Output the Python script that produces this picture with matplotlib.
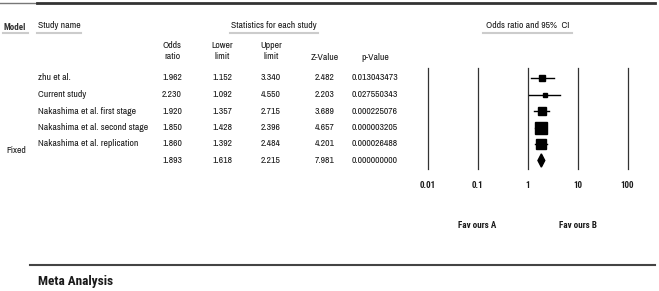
import numpy as np
import matplotlib
matplotlib.use("Agg")
import matplotlib.pyplot as plt
from matplotlib.patches import Polygon

plt.rcParams['font.family'] = ['Archivo Narrow', 'PT Sans Narrow', 'Roboto Condensed', 'Liberation Sans']
bold_family = ['Roboto Condensed', 'PT Sans Narrow', 'Liberation Sans']

# data
studies = ['zhu et al.', 'Current study', 'Nakashima et al. first stage',
           'Nakashima et al. second stage', 'Nakashima et al. replication']
odds = [1.962, 2.230, 1.920, 1.850, 1.860]
lower = [1.152, 1.092, 1.357, 1.428, 1.392]
upper = [3.340, 4.550, 2.715, 2.396, 2.484]
zval = [2.482, 2.203, 3.689, 4.657, 4.201]
pval = ['0.013043473', '0.027550343', '0.000225076', '0.000003205', '0.000026488']
weights = [9, 4, 17, 40, 30]  # relative weights (box size)

fixed_odds, fixed_lower, fixed_upper = 1.893, 1.618, 2.215
fixed_z, fixed_p = 7.981, '0.000000000'

ticks = [0.01, 0.1, 1, 10, 100]
tick_labels = ['0.01', '0.1', '1', '10', '100']

W, H = 659, 291
fig = plt.figure(figsize=(W / 100, H / 100), dpi=100)
bg = fig.add_axes([0, 0, 1, 1])
bg.set_xlim(0, W)
bg.set_ylim(H, 0)
bg.axis('off')

fs = 7
tc = '#1a1a1a'
row0, dy = 78, 16.5
col_x = {'or': 172, 'lo': 222, 'up': 271, 'z': 325, 'p': 375}

# top rule
bg.plot([0, 37], [2.5, 2.5], color='#777777', lw=1)
bg.plot([37, 655], [2.5, 2.5], color='#333333', lw=2)

# group headers with underlines
bg.text(4, 27, 'Model', fontsize=fs - 0.5, fontweight='bold', family=bold_family, color='#333333', va='center')
bg.plot([3, 28], [32.5, 32.5], color='#cccccc', lw=1.5)
bg.text(38, 26, 'Study name', fontsize=fs, va='center', color=tc)
bg.plot([37, 81], [32.5, 32.5], color='#cccccc', lw=1.5)
bg.text(274, 26, 'Statistics for each study', fontsize=fs, ha='center', va='center', color=tc)
bg.plot([230, 318], [32.5, 32.5], color='#cccccc', lw=1.5)
bg.text(528, 25.5, 'Odds ratio and 95%  CI', fontsize=fs, ha='center', va='center', color=tc)
bg.plot([483, 572], [32.5, 32.5], color='#cccccc', lw=1.5)

# column headers
for key, lab in [('or', 'Odds\nratio'), ('lo', 'Lower\nlimit'), ('up', 'Upper\nlimit')]:
    bg.text(col_x[key], 51, lab, fontsize=fs, ha='center', va='center', linespacing=1.3, color=tc)
bg.text(col_x['z'], 57, 'Z-Value', fontsize=fs, ha='center', va='center', color=tc)
bg.text(col_x['p'], 57, 'p-Value', fontsize=fs, ha='center', va='center', color=tc)

# study rows
for i, name in enumerate(studies):
    y = row0 + i * dy
    bg.text(38, y, name, fontsize=fs, va='center', color=tc)
    bg.text(col_x['or'], y, f'{odds[i]:.3f}', fontsize=fs, ha='center', va='center', color=tc)
    bg.text(col_x['lo'], y, f'{lower[i]:.3f}', fontsize=fs, ha='center', va='center', color=tc)
    bg.text(col_x['up'], y, f'{upper[i]:.3f}', fontsize=fs, ha='center', va='center', color=tc)
    bg.text(col_x['z'], y, f'{zval[i]:.3f}', fontsize=fs, ha='center', va='center', color=tc)
    bg.text(col_x['p'], y, pval[i], fontsize=fs, ha='center', va='center', color=tc)

yf = row0 + len(studies) * dy
bg.text(6, yf - 10, 'Fixed', fontsize=fs, va='center', color=tc)
bg.text(col_x['or'], yf, f'{fixed_odds:.3f}', fontsize=fs, ha='center', va='center', color=tc)
bg.text(col_x['lo'], yf, f'{fixed_lower:.3f}', fontsize=fs, ha='center', va='center', color=tc)
bg.text(col_x['up'], yf, f'{fixed_upper:.3f}', fontsize=fs, ha='center', va='center', color=tc)
bg.text(col_x['z'], yf, f'{fixed_z:.3f}', fontsize=fs, ha='center', va='center', color=tc)
bg.text(col_x['p'], yf, fixed_p, fontsize=fs, ha='center', va='center', color=tc)

# forest plot axes (log scale)
x0, x1 = 427.5, 627.5
ytop, ybot = 68, 169
ax = fig.add_axes([x0 / W, 1 - ybot / H, (x1 - x0) / W, (ybot - ytop) / H])
ax.set_xscale('log')
ax.set_xlim(0.01, 100)
n = len(studies) + 1
ax.set_ylim((ybot - row0) / dy, (ytop - row0) / dy)
ax.axis('off')
for t in ticks:
    ax.axvline(t, color='#333333', lw=0.9, clip_on=False)

for i in range(len(studies)):
    ax.plot([lower[i], upper[i]], [i, i], color='black', lw=1)
    side = 1.85 * np.sqrt(weights[i]) * 0.72  # px -> pt
    ax.plot(odds[i], i, marker='s', color='black', markersize=side, linestyle='none')

dh = 0.4
ax.add_patch(Polygon([(fixed_lower, n - 1), (fixed_odds, n - 1 - dh),
                      (fixed_upper, n - 1), (fixed_odds, n - 1 + dh)],
                     closed=True, color='black'))

# tick labels and favours labels
for t, lab in zip(ticks, tick_labels):
    xp = x0 + (np.log10(t) + 2) * 50
    bg.text(xp, 186, lab, fontsize=fs - 0.5, fontweight='bold', family=bold_family,
            ha='center', va='center', color=tc)
bg.text(x0 + 50, 225, 'Fav ours A', fontsize=fs - 0.5, fontweight='bold', family=bold_family,
        ha='center', va='center', color=tc)
bg.text(x0 + 150, 225, 'Fav ours B', fontsize=fs - 0.5, fontweight='bold', family=bold_family,
        ha='center', va='center', color=tc)

# bottom rule and title
bg.plot([30, 655], [265, 265], color='#444444', lw=1.5)
bg.text(38, 282, 'Meta Analysis', fontsize=9.5, fontweight='bold', family=bold_family,
        va='center', color=tc)

fig.savefig('out.png', dpi=100)
